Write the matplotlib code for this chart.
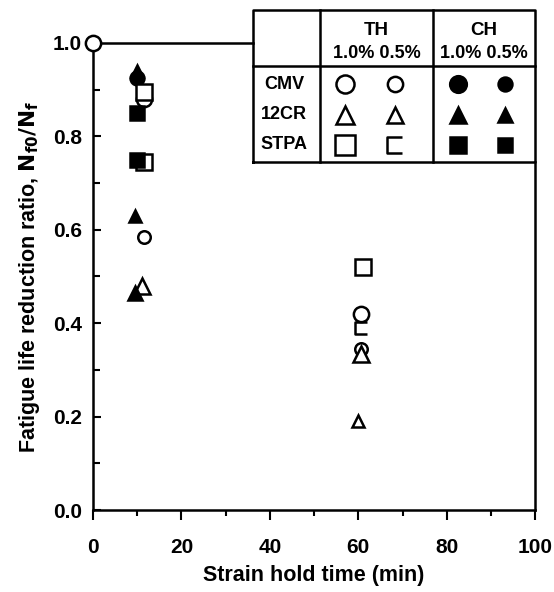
import matplotlib
matplotlib.use("Agg")
import matplotlib.pyplot as plt
from matplotlib.path import Path
from matplotlib.ticker import MultipleLocator

plt.rcParams["font.family"] = ["Liberation Sans", "DejaVu Sans"]
plt.rcParams["font.weight"] = "bold"
plt.rcParams["axes.labelweight"] = "bold"
plt.rcParams["mathtext.default"] = "bf"

# Fatigue life reduction ratio vs. strain hold time
# TH = tension hold, CH = compression hold; 1.0 % / 0.5 % strain range
ref_time = [0]
ref_ratio = [1.0]

cmv_th10_t = [11.5, 60.5]
cmv_th10_r = [0.88, 0.42]
cmv_th05_t = [11.5, 60.5]
cmv_th05_r = [0.585, 0.345]
cmv_ch10_t = [10.0]
cmv_ch10_r = [0.925]

cr12_th10_t = [11.0, 60.5]
cr12_th10_r = [0.48, 0.335]
cr12_th05_t = [60.0]
cr12_th05_r = [0.19]
cr12_ch10_t = [9.5]
cr12_ch10_r = [0.465]
cr12_ch05_t = [9.5, 10.0]
cr12_ch05_r = [0.63, 0.94]

stpa_th10_t = [11.5, 11.5, 61.0]
stpa_th10_r = [0.895, 0.745, 0.52]
stpa_th05_t = [60.5]
stpa_th05_r = [0.39]
stpa_ch10_t = [10.0, 10.0]
stpa_ch10_r = [0.85, 0.75]

x_ticks = [0, 20, 40, 60, 80, 100]
y_ticks = [0.0, 0.2, 0.4, 0.6, 0.8, 1.0]

# open bracket used for the STPA tension-hold 0.5 % marker
bracket = Path([(0.9, 1.0), (-1.0, 1.0), (-1.0, -1.0), (0.9, -1.0)],
               [Path.MOVETO, Path.LINETO, Path.LINETO, Path.LINETO])

K = "black"
W = "white"
styles = {
    "cmv_th10": dict(marker="o", ms=11, mfc=W, mec=K),
    "cmv_th05": dict(marker="o", ms=9, mfc=W, mec=K),
    "cmv_ch10": dict(marker="o", ms=10, mfc=K, mec=K),
    "cmv_ch05": dict(marker="o", ms=8, mfc=K, mec=K),
    "cr12_th10": dict(marker="^", ms=11, mfc=W, mec=K),
    "cr12_th05": dict(marker="^", ms=9, mfc=W, mec=K),
    "cr12_ch10": dict(marker="^", ms=10, mfc=K, mec=K),
    "cr12_ch05": dict(marker="^", ms=8, mfc=K, mec=K),
    "stpa_th10": dict(marker="s", ms=12, mfc=W, mec=K),
    "stpa_th05": dict(marker=bracket, ms=9, mfc="none", mec=K),
    "stpa_ch10": dict(marker="s", ms=10, mfc=K, mec=K),
    "stpa_ch05": dict(marker="s", ms=8, mfc=K, mec=K),
}

fig = plt.figure(figsize=(5.54, 5.92), dpi=100)
ax = fig.add_axes([0.168, 0.1385, 0.798, 0.789])

series = [
    ("cmv_th10", cmv_th10_t, cmv_th10_r),
    ("cmv_th05", cmv_th05_t, cmv_th05_r),
    ("cmv_ch10", cmv_ch10_t, cmv_ch10_r),
    ("cr12_th10", cr12_th10_t, cr12_th10_r),
    ("cr12_th05", cr12_th05_t, cr12_th05_r),
    ("cr12_ch10", cr12_ch10_t, cr12_ch10_r),
    ("cr12_ch05", cr12_ch05_t, cr12_ch05_r),
    ("stpa_th10", stpa_th10_t, stpa_th10_r),
    ("stpa_th05", stpa_th05_t, stpa_th05_r),
    ("stpa_ch10", stpa_ch10_t, stpa_ch10_r),
]
for key, t, r in series:
    ax.plot(t, r, linestyle="none", mew=1.8, zorder=4, **styles[key])

ax.plot(ref_time, ref_ratio, linestyle="none", clip_on=False, zorder=6,
        mew=1.8, **styles["cmv_th10"])

ax.set_xlim(0, 100)
ax.set_ylim(0, 1.0)
ax.set_xticks(x_ticks)
ax.set_yticks(y_ticks)
ax.set_yticklabels([f"{v:.1f}" for v in y_ticks])
ax.xaxis.set_minor_locator(MultipleLocator(10))
ax.yaxis.set_minor_locator(MultipleLocator(0.1))
ax.tick_params(axis="x", which="major", direction="out", length=7, width=1.5,
               pad=13, labelsize=15)
ax.tick_params(axis="x", which="minor", direction="out", length=4, width=1.5)
ax.tick_params(axis="y", which="major", direction="in", length=6, width=1.5,
               pad=8, labelsize=15)
ax.tick_params(axis="y", which="minor", direction="in", length=5, width=1.5)

for s in ax.spines.values():
    s.set_linewidth(1.8)
ax.spines["top"].set_visible(False)

# legend table sitting over the upper right corner
tl, tr, tb, tt = 0.362, 1.0, 0.745, 1.071
ax.spines["right"].set_bounds(0, tb)
hy = 0.951
c1, c2 = 0.514, 0.769
tab = dict(transform=ax.transAxes, clip_on=False, color=K, lw=1.8, zorder=5)
ax.plot([0, tl], [1.0, 1.0], **tab)
ax.plot([tl, tr, tr, tl, tl], [tb, tb, tt, tt, tb], **tab)
ax.plot([tl, tr], [hy, hy], **tab)
ax.plot([c1, c1], [tb, tt], **tab)
ax.plot([c2, c2], [tb, tt], **tab)

txt = dict(transform=ax.transAxes, ha="center", va="center", zorder=6)
ax.text((c1 + c2) / 2, 1.027, "TH", fontsize=13.5, **txt)
ax.text((c1 + c2) / 2, 0.977, "1.0% 0.5%", fontsize=13, **txt)
ax.text((c2 + tr) / 2, 1.027, "CH", fontsize=13.5, **txt)
ax.text((c2 + tr) / 2, 0.977, "1.0% 0.5%", fontsize=13, **txt)

row_names = ["CMV", "12CR", "STPA"]
row_y = [0.912, 0.846, 0.782]
col_x = [0.570, 0.683, 0.826, 0.932]
col_suffix = ["th10", "th05", "ch10", "ch05"]
row_prefix = ["cmv", "cr12", "stpa"]
for name, yy, pre in zip(row_names, row_y, row_prefix):
    ax.text(0.432, yy, name, fontsize=13, **txt)
    for xx, suf in zip(col_x, col_suffix):
        st = dict(styles[f"{pre}_{suf}"])
        st["ms"] = st["ms"] + 2
        ax.plot([xx], [yy], transform=ax.transAxes, clip_on=False,
                linestyle="none", mew=1.8, zorder=6, **st)

ax.set_xlabel("Strain hold time (min)", fontsize=15.5, labelpad=6)
ax.set_ylabel("Fatigue life reduction ratio, $N_{f0}/N_f$", fontsize=15.5,
              labelpad=8)

fig.savefig("out.png", dpi=100)
